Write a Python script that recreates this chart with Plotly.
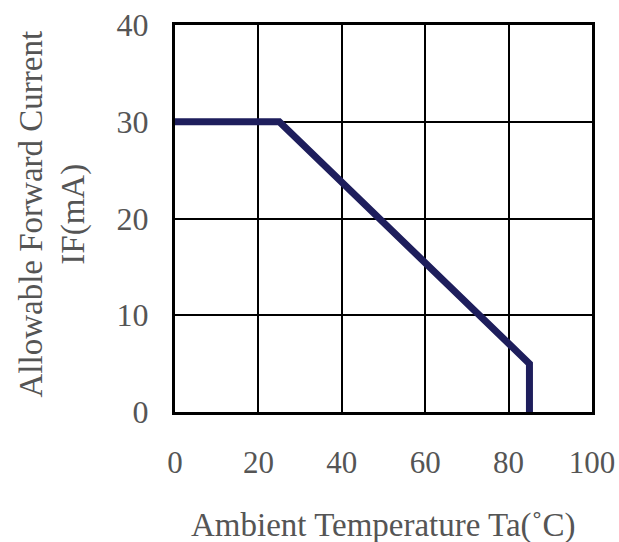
import plotly.graph_objects as go

# Data
temperature_c = [0, 25, 85, 85]
forward_current_ma = [30, 30, 5, 0]

x_ticks = [0, 20, 40, 60, 80, 100]
y_ticks = [0, 10, 20, 30, 40]

FONT = "Liberation Serif, Times New Roman, serif"
TXT = "#555555"

fig = go.Figure()
fig.add_trace(go.Scatter(
    x=temperature_c, y=forward_current_ma, mode="lines",
    line=dict(color="#1e1e5c", width=7), line_shape="linear",
    showlegend=False, hoverinfo="skip", cliponaxis=False,
))

fig.update_layout(
    width=619, height=542,
    margin=dict(l=175, r=27, t=25, b=130, autoexpand=False),
    paper_bgcolor="white", plot_bgcolor="white",
    font=dict(family=FONT, color=TXT, size=32),
)
fig.update_xaxes(
    range=[0, 100], tickvals=x_ticks, ticktext=[str(v) for v in x_ticks],
    showgrid=True, gridcolor="black", gridwidth=2,
    showline=True, linecolor="black", linewidth=3, mirror=True,
    ticks="outside", ticklen=21, tickcolor="rgba(0,0,0,0)",
    tickfont=dict(size=31, color=TXT), zeroline=False, automargin=False,
    ticklabeloverflow="allow",
)
fig.update_yaxes(
    range=[0, 40], tickvals=y_ticks, ticktext=[str(v) for v in y_ticks],
    showgrid=True, gridcolor="black", gridwidth=2,
    showline=True, linecolor="black", linewidth=3, mirror=True,
    ticks="outside", ticklen=17, tickcolor="rgba(0,0,0,0)",
    tickfont=dict(size=32, color=TXT), zeroline=False, automargin=False,
    ticklabeloverflow="allow",
)

fig.add_annotation(
    text="Allowable Forward Current<br>IF(mA)", textangle=-90,
    xref="paper", yref="paper", x=0, y=0.5, xanchor="center", yanchor="middle",
    xshift=-123, yshift=4, showarrow=False, font=dict(size=33, color=TXT, family=FONT),
)
fig.add_annotation(
    text="Ambient Temperature Ta(˚C)",
    xref="paper", yref="paper", x=0.5, y=0, xanchor="center", yanchor="middle",
    yshift=-113, showarrow=False, font=dict(size=33, color=TXT, family=FONT),
)

fig.write_html(
    "out.html",
    config={"displayModeBar": False},
    post_script="document.body.style.margin='0';document.body.style.overflow='hidden';",
)
